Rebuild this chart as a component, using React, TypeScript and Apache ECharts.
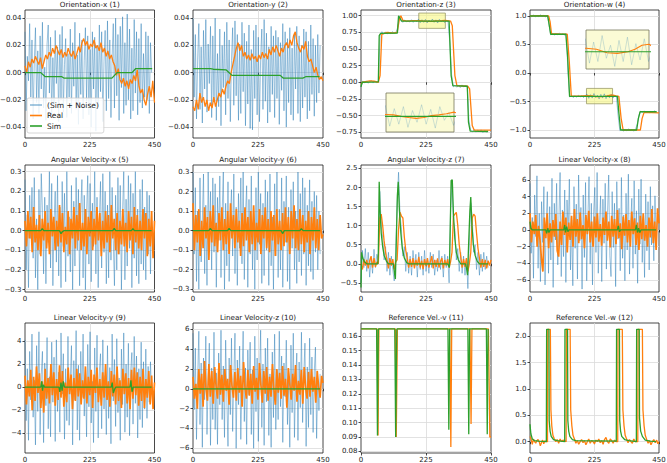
import React, { useEffect, useRef } from "react";
import * as echarts from "echarts";

// ---------------- data ----------------
const panelTitles = [
  "Orientation-x (1)", "Orientation-y (2)", "Orientation-z (3)", "Orientation-w (4)",
  "Angular Velocity-x (5)", "Angular Velocity-y (6)", "Angular Velocity-z (7)", "Linear Velocity-x (8)",
  "Linear Velocity-y (9)", "Linear Velocity-z (10)", "Reference Vel.-v (11)", "Reference Vel.-w (12)",
];
const xTickValues = [0, 225, 450];
const noiseEnd = 440;
const realEnd = 450;

const yMin = [-0.048, -0.048, -0.838, -1.14, -0.312, -0.314, -0.74, -7.45, -5.7, -6.47, 0.0789, -0.215];
const yMax = [0.046, 0.046, 1.086, 1.105, 0.334, 0.336, 2.59, 7.8, 5.56, 6.63, 0.1691, 2.25];
const yStep = [0.02, 0.02, 0.25, 0.5, 0.1, 0.1, 0.5, 2, 2, 2, 0.01, 0.5];
const yDecimals = [2, 2, 2, 1, 1, 1, 1, 0, 0, 0, 2, 1];

// Orientation-x
const noiseOriX = [0.03,-0.028,0.012,-0.006,0.036,-0.018,0.024,-0.034,0.008,0.033,
-0.022,0.016,-0.03,0.027,-0.012,0.037,-0.026,0.004,-0.035,0.021,
0.035,-0.015,0.026,-0.032,0.011,-0.024,0.031,-0.008,0.019,-0.036,
0.028,-0.02,0.034,-0.029,0.006,0.025,-0.033,0.014,-0.018,0.032,
-0.03,0.022,-0.01,0.037,-0.027,0.013,-0.038,0.029,-0.016,0.024,
-0.034,0.009,0.033,-0.021,0.027,-0.031,0.017,-0.04,0.03,-0.012,
0.026,-0.043,0.02,-0.025,0.035,-0.014,0.03,-0.036,0.008,0.031,
-0.028,0.038,-0.019,0.024,-0.033,0.012,0.036,-0.026,0.04,-0.017,
0.028,-0.035,0.034,-0.011,0.041,-0.03,0.022,-0.024,0.043,-0.02,
0.032,-0.034,0.018,-0.028,0.039,-0.015,0.03,-0.031,0.025,-0.022,
0.036,-0.026,0.014,-0.018,0.03,-0.02,0.027,-0.03,0.022,0.0];
const realOriX = [0.005,0.0,0.008,0.004,0.01,0.007,0.012,0.009,0.006,0.011,
0.003,0.008,0.013,0.01,0.015,0.012,0.018,0.014,0.02,0.016,
0.013,0.017,0.011,0.015,0.012,0.018,0.014,0.012,0.016,0.01,
0.014,0.019,0.015,0.022,0.025,0.02,0.023,0.017,0.021,0.019,
0.024,0.018,0.02,0.016,0.022,0.015,0.018,0.012,0.016,0.01,
0.013,0.008,0.005,-0.002,0.003,-0.005,-0.008,-0.004,-0.01,-0.006,
-0.012,-0.005,-0.008,-0.002,-0.006,0.002,-0.01,-0.015,-0.012,-0.02,
-0.024,-0.016,-0.01,-0.018,-0.006,-0.022];
const simOriX = [[0,0],[55,0],[70,-0.003],[128,-0.003],[135,-0.004],[302,-0.004],[320,0.0],[372,0.0],[385,0.003],[442,0.003]];

// Orientation-y
const noiseOriY = [0.04,-0.018,0.028,-0.034,0.01,0.036,-0.027,0.019,-0.037,0.031,
-0.012,0.039,-0.029,0.021,-0.008,0.034,-0.033,0.027,-0.021,0.04,
-0.035,0.014,-0.025,0.032,-0.039,0.02,-0.011,0.03,-0.031,0.037,
-0.019,0.024,-0.036,0.009,0.033,-0.024,0.038,-0.017,0.028,-0.035,
0.021,-0.03,0.037,-0.014,0.029,-0.039,0.023,-0.023,0.035,-0.041,
0.017,-0.042,0.031,-0.019,0.035,-0.031,0.026,-0.036,0.011,0.032,
-0.027,0.039,-0.021,0.029,-0.037,0.019,-0.029,0.034,-0.016,0.027,
-0.033,0.031,-0.019,0.026,-0.038,0.022,-0.013,0.036,-0.028,0.03,
-0.04,0.025,-0.022,0.033,-0.031,0.018,-0.035,0.029,-0.012,0.034,
-0.03,0.027,-0.036,0.02,-0.026,0.032,-0.018,0.03,-0.034,0.023,
-0.028,0.035,-0.016,0.025,-0.032,0.02,-0.022,0.028,-0.015,0.02];
const realOriY = [-0.025,-0.028,-0.02,-0.027,-0.015,-0.022,-0.018,-0.025,-0.02,-0.028,
-0.022,-0.026,-0.018,-0.025,-0.02,-0.015,-0.018,-0.012,-0.016,-0.01,
-0.006,-0.008,0.0,0.006,0.012,0.018,0.022,0.016,0.02,0.012,
0.015,0.01,0.013,0.009,0.014,0.01,0.012,0.008,0.013,0.01,
0.015,0.011,0.014,0.01,0.017,0.013,0.019,0.015,0.02,0.016,
0.012,0.018,0.015,0.02,0.022,0.018,0.024,0.02,0.027,0.03,
0.022,0.018,0.015,0.02,0.017,0.023,0.012,0.008,0.01,0.005,
0.0,0.004,-0.002,-0.005,-0.003,-0.006];
const simOriY = [[0,0.003],[60,0.003],[70,0.0025],[115,0.002],[135,-0.002],[302,-0.002],[312,-0.004],[380,-0.004],[390,-0.003],[438,-0.003]];

// Orientation-z
const noiseOriZ = [-0.07,0.015,-0.01,0.02,-0.015,0.01,0.025,-0.012,0.018,-0.005,
0.012,0.72,0.76,0.73,0.755,0.725,0.75,0.73,0.76,0.735,
0.745,0.82,0.99,0.94,0.9,0.935,0.91,0.93,0.905,0.94,
0.9,0.935,0.91,0.948,0.895,0.94,0.9,0.945,0.892,0.935,
0.905,0.95,0.9,0.938,0.89,0.945,0.91,0.93,0.897,0.925,
0.91,0.6,0.12,-0.07,-0.045,-0.075,-0.05,-0.08,-0.04,-0.07,
-0.05,-0.065,-0.58,-0.72,-0.745,-0.71,-0.75,-0.72,-0.74,-0.715,
-0.755,-0.725,-0.745,-0.73];
const realOriZ = [[0,-0.03],[5,0.0],[15,0.01],[30,0.02],[45,0.015],[60,0.0],[66,0.1],[72,0.72],[90,0.75],[110,0.74],[125,0.75],[133,0.95],[138,1.0],[145,0.93],[160,0.92],[180,0.925],[200,0.925],[210,0.924],[220,0.92],[230,0.917],[240,0.915],[250,0.917],[260,0.922],[270,0.924],[280,0.927],[290,0.931],[300,0.925],[310,0.92],[316,0.85],[325,0.1],[332,-0.05],[370,-0.06],[376,-0.1],[385,-0.65],[392,-0.72],[450,-0.72]];
const simOriZ = [[0,-0.07],[4,0],[60,0.005],[63,0.7],[68,0.735],[126,0.74],[130,1.0],[140,0.92],[305,0.92],[312,0.1],[318,-0.05],[368,-0.06],[372,-0.6],[378,-0.735],[440,-0.74]];

// Orientation-w
const noiseOriW = [1.01,0.99,1.015,0.985,1.005,0.99,1.02,0.995,1.01,0.985,
1.005,0.85,0.67,0.695,0.665,0.69,0.67,0.7,0.675,0.69,
0.665,0.69,0.0,-0.42,-0.395,-0.43,-0.4,-0.425,-0.39,-0.42,
-0.4,-0.43,-0.395,-0.37,-0.445,-0.38,-0.44,-0.36,-0.43,-0.39,
-0.455,-0.375,-0.44,-0.365,-0.45,-0.385,-0.435,-0.37,-0.44,-0.4,
-0.42,-0.75,-1.01,-0.985,-1.02,-0.99,-1.015,-0.98,-1.005,-0.99,
-1.02,-0.995,-0.9,-0.75,-0.67,-0.695,-0.665,-0.69,-0.675,-0.7,
-0.67,-0.69,-0.665,-0.685];
const realOriW = [[0,1.0],[30,1.005],[65,1.0],[70,0.9],[75,0.69],[100,0.685],[130,0.68],[137,0.2],[144,-0.4],[170,-0.405],[200,-0.399],[215,-0.402],[230,-0.413],[245,-0.415],[260,-0.41],[270,-0.402],[280,-0.39],[290,-0.387],[300,-0.4],[310,-0.41],[318,-0.8],[325,-1.0],[385,-1.0],[391,-0.8],[398,-0.69],[450,-0.7]];
const simOriW = [[0,1.0],[62,1.0],[72,0.68],[125,0.68],[131,0.3],[138,-0.41],[305,-0.41],[310,-0.7],[316,-1.0],[372,-1.0],[378,-0.8],[384,-0.68],[442,-0.68]];

// Angular Velocity-x
const noiseAngX = [0.26,-0.2,0.08,-0.29,0.18,-0.04,0.22,-0.14,0.27,-0.24,
0.06,-0.3,0.21,-0.12,0.29,0.1,-0.22,0.17,-0.27,0.13,
-0.06,0.3,-0.19,0.24,-0.28,0.04,0.2,-0.16,0.28,-0.23,
0.12,-0.29,0.25,-0.08,0.19,-0.26,0.3,-0.13,0.07,-0.21,
0.23,-0.3,0.15,-0.18,0.27,-0.1,0.21,-0.28,0.11,0.26,
-0.24,0.18,-0.3,0.09,0.28,-0.17,0.24,-0.26,0.14,-0.08,
0.3,-0.22,0.17,-0.29,0.06,0.25,-0.19,0.29,-0.11,0.2,
-0.27,0.13,-0.24,0.3,-0.15,0.22,-0.05,-0.28,0.18,-0.2,
0.27,-0.12,0.23,-0.3,0.1,0.3,-0.25,0.16,-0.18,0.28,
-0.09,0.24,-0.29,0.19,-0.14,0.3,-0.23,0.11,-0.27,0.21,
-0.17,0.26,-0.2,0.12,-0.25,0.2,-0.12,0.18,-0.22,0.1];
const realAngX = [0.05,-0.08,0.1,-0.04,0.07,-0.11,0.12,-0.06,0.03,-0.1,
0.08,-0.13,0.06,-0.05,0.1,-0.09,0.04,-0.12,0.11,-0.03,
0.07,-0.1,0.05,-0.08,0.13,-0.06,0.09,-0.11,0.02,-0.07,
0.1,-0.12,0.06,-0.04,0.12,-0.09,0.08,-0.05,0.14,-0.1,
0.04,-0.08,0.11,-0.12,0.07,-0.03,0.1,-0.1,0.06,-0.07,
0.12,-0.05,0.09,-0.13,0.05,-0.09,0.1,-0.06,0.08,-0.11,
0.13,-0.04,0.06,-0.1,0.09,-0.12,0.05,-0.07,0.11,-0.08,
0.04,-0.11,0.1,-0.05,0.07,-0.12,0.12,-0.06,0.08,-0.09,
0.05,-0.1,0.11,-0.04,0.09,-0.13,0.06,-0.08,0.1,-0.14,
0.05];
const simAngX = [[0,0],[55,0],[60,0.01],[65,0],[120,0],[125,-0.015],[130,-0.005],[135,0],[305,0],[310,0.012],[315,0],[370,0],[375,0.01],[380,0],[440,0]];

// Angular Velocity-y
const noiseAngY = [0.3,-0.12,0.22,-0.26,0.1,-0.3,0.27,-0.16,0.05,0.29,
-0.22,0.13,-0.28,0.3,-0.08,0.2,-0.2,0.27,-0.11,0.24,
-0.29,0.17,-0.05,0.28,-0.24,0.09,0.3,-0.3,0.14,-0.18,
0.25,-0.26,0.06,0.21,-0.13,0.29,-0.22,0.12,-0.28,0.19,
-0.09,0.27,-0.17,0.3,-0.25,0.08,0.23,-0.29,0.16,-0.12,
0.28,-0.2,0.1,-0.3,0.22,-0.15,0.3,-0.07,0.19,-0.27,
0.14,-0.23,0.26,-0.1,0.2,-0.28,0.29,-0.18,0.07,-0.3,
0.24,-0.13,0.3,-0.24,0.11,-0.2,0.27,-0.29,0.15,-0.06,
0.28,-0.26,0.12,-0.3,0.21,-0.09,0.25,-0.2,0.1,-0.27,
0.3,-0.16,0.19,-0.23,0.27,-0.12,0.22,-0.28,0.13,-0.18,
0.26,-0.21,0.15,-0.25,0.2,-0.11,0.18,-0.2,0.1,-0.12];
const realAngY = [0.14,-0.1,0.08,-0.06,0.11,-0.13,0.05,-0.09,0.12,-0.04,
0.07,-0.15,0.1,-0.06,0.13,-0.08,0.04,-0.11,0.09,-0.05,
0.12,-0.1,0.06,-0.07,0.1,-0.12,0.14,-0.04,0.08,-0.09,
0.11,-0.06,0.05,-0.13,0.09,-0.08,0.12,-0.05,0.07,-0.11,
0.1,-0.07,0.13,-0.1,0.04,-0.06,0.11,-0.12,0.08,-0.04,
0.12,-0.09,0.06,-0.11,0.1,-0.05,0.08,-0.13,0.11,-0.07,
0.05,-0.1,0.09,-0.08,0.12,-0.06,0.07,-0.12,0.1,-0.04,
0.13,-0.09,0.06,-0.1,0.11,-0.07,0.08,-0.11,0.05,-0.06,
0.1,-0.12,0.07,-0.05,0.12,-0.09,0.06,-0.1,0.08,-0.04,
-0.02];
const simAngY = [[0,0],[55,0],[60,0.012],[66,0],[120,0],[125,0.012],[131,0],[305,0],[310,-0.015],[316,0],[370,0],[375,0.01],[381,0],[440,0]];

// Angular Velocity-z
const noiseAngZ = [-0.5,0.35,-0.1,0.4,-0.2,0.3,-0.35,0.15,-0.25,0.38,
-0.1,0.25,0.1,1.9,1.0,0.7,0.1,0.45,-0.2,0.3,
-0.3,0.2,-0.15,-0.45,0.3,1.6,2.4,1.3,0.9,0.2,
0.45,-0.2,0.3,-0.25,0.2,-0.3,0.35,-0.1,0.25,-0.35,
0.3,-0.15,0.2,-0.3,0.35,-0.2,0.15,-0.25,0.3,-0.1,
0.25,-0.3,0.1,-0.2,0.35,-0.15,0.2,-0.35,0.25,-0.1,
0.2,-0.5,1.4,2.1,1.1,0.9,0.1,0.4,-0.2,0.3,
-0.25,0.2,-0.3,0.15,-0.65,0.6,1.6,1.2,0.3,0.5,
-0.15,0.3,-0.3,0.25,-0.2,0.3,-0.15,0.2,-0.1];
const realAngZ = [0.0,-0.15,0.12,-0.05,0.1,-0.12,0.08,0.2,-0.1,0.15,
-0.08,0.05,0.0,1.2,1.3,1.0,0.6,0.3,0.1,-0.12,
0.15,-0.05,0.12,-0.15,0.05,0.1,0.9,1.35,1.25,1.2,
0.7,0.35,0.15,-0.1,0.12,-0.08,0.15,-0.12,0.1,-0.05,
0.18,-0.1,0.08,-0.14,0.12,-0.06,0.15,-0.1,0.05,0.2,
-0.12,0.1,-0.08,0.14,-0.1,0.06,0.15,-0.12,0.1,-0.05,
0.12,-0.1,0.05,0.3,1.25,1.3,1.35,1.0,0.5,0.2,
-0.1,0.12,-0.08,0.15,-0.2,0.0,0.3,1.2,1.3,1.25,
0.8,0.4,0.15,-0.1,0.12,-0.08,0.1,-0.12,0.08,-0.05,
0.1];
const simAngZ = [[0,-0.62],[2,0.3],[6,0.15],[12,0.05],[20,0],[58,0],[60,0.3],[63,2.15],[66,1.4],[70,0.8],[75,0.45],[80,0.22],[88,0.07],[95,0],[112,0],[116,-0.25],[119,-0.4],[121,0.2],[126,1.8],[129,2.15],[133,1.4],[138,0.8],[143,0.4],[150,0.15],[158,0.03],[165,0],[300,0],[306,-0.1],[309,1.0],[312,2.18],[316,2.2],[320,1.3],[325,0.65],[330,0.3],[337,0.1],[345,0],[362,0],[366,-0.15],[369,-0.3],[372,0.4],[377,1.4],[380,1.75],[384,1.0],[389,0.5],[395,0.22],[402,0.07],[410,0],[440,0]];

// Linear Velocity-x
const noiseLinX = [5.6,-2.8,1.5,-5.8,4.2,-0.8,6.5,-4.6,2,-6.2,
3.4,-1.5,5.2,-6.6,0.8,4.6,-5.2,2.8,-3.6,6.2,
-6.9,3.2,-1.2,5.6,-4.2,1.4,6.9,-5.6,2.4,-3.2,
4.8,-6.3,3.6,-0.4,6.1,-4.8,1.2,-6.7,5.2,-2.2,
3.1,-5.9,6.6,-1.3,2.7,-7.1,4.2,-3.3,5.7,-6.1,
1.3,6.4,-4.1,3.2,-6.6,2.2,5.1,-2.7,6.9,-5.2,
0.6,4.1,-6.2,3.7,-1.6,5.6,-4.7,2.1,6.6,-3.1,
-5.6,4.6,-2.1,3.2,-6.8,5.8,-1.1,2.6,-4.9,6.3,
-3.4,1.8,-6.1,4.4,-2.4,6.7,-5.3,0.9,3.8,-4.6,
5.9,-2.9,2.3,-6.4,4.9,-1.7,6.1,-3.9,1.4,-5.7,
4.3,-2.5,3.4,-4.8,5.2,-1.8,2.9,-3.7,4.1,-1.2];
const realLinX = [2,-1.5,1,-0.5,1.8,-2,0.5,-1.2,-3.5,-5,
1.5,-1,2,-2.2,0.8,-1.5,1.2,-0.8,1.9,-2.5,
-3.2,1,-1.8,2.2,-0.6,1.5,-2.7,0.9,-1.2,1.7,
-2,2.5,-0.8,1.3,-1.6,2.1,-1.1,0.6,-2.2,1.8,
-0.5,2.3,-1.5,1,-2,1.6,-0.9,2,-1.4,0.7,
-1.9,1.5,-0.6,2.2,-1.3,1,-2.1,1.7,-0.8,1.3,
-1.7,2.4,-1,0.8,-2.3,1.6,-0.7,1.9,-1.5,1.2,
-2,2.2,-0.5,1.4,-1.8,0.9,-2.4,1.7,-1.1,2,
-1.3,0.6,-2,1.5,-0.9,2.5,-1.6,1,-2.4,2.6,
0.8];
const simLinX = [[0,1.0],[3,0.2],[8,0],[55,0],[58,-0.4],[62,0.2],[66,-0.3],[70,0],[118,0],[121,0.6],[124,-0.3],[128,0.4],[132,-0.2],[136,0],[305,0],[308,0.5],[312,-0.2],[316,0],[368,0],[371,0.6],[375,-0.3],[379,0.2],[383,-0.3],[387,0],[440,0]];

// Linear Velocity-y
const noiseLinY = [4.1,-2.9,1.6,-4.6,3.1,-1.1,4.6,-2.6,0.6,-5,
3.6,-2.1,4.8,-4.1,1.1,3.1,-4.8,2.1,-1.6,4.3,
-3.6,0.9,-4.3,3.9,-1.3,2.6,-4.7,4.1,-2.1,1.3,
-3.9,4.7,-0.6,2.9,-4.5,1.6,-2.9,4.4,-3.3,0.7,
3.6,-5,2.3,-1.1,4.9,-3.7,1.9,-4.6,3.1,-0.9,
4.6,-2.5,1.1,-4.3,3.7,-1.7,4.8,-3.1,0.5,-4.8,
3.4,-2.1,4.5,-4.4,1.4,2.9,-3.6,4.1,-1.9,1,
-4.1,3.6,-2.7,1.7,-4.9,4.6,-1.2,2.4,-3.4,4.2,
-2.2,0.8,-4.6,3.3,-1.5,4.7,-3.9,2,-2.6,3.8,
-4.2,1.4,3,-3.2,4.4,-1.4,2.7,-4.4,1.6,-2.8,
3.9,-3.5,2.2,-1.9,3.3,-2.7,1.8,-1.3,2.2,-0.6];
const realLinY = [1,-1.5,0.6,-0.8,1.5,-2,0.9,-1.2,1.8,-0.5,
1.2,-1.8,0.5,-2.2,1.6,-1,0.8,-1.4,2,-0.7,
1.3,-1.6,0.7,-1.1,1.9,-0.9,1.4,-1.7,0.4,-1.3,
1.7,-0.6,1.1,-1.9,0.8,-1.2,1.6,-0.8,1.2,-1.5,
0.6,-1,1.8,-1.4,0.9,-0.7,1.5,-1.8,1.1,-0.5,
1.7,-1.3,0.7,-1.6,1.3,-0.9,2,-1.1,0.5,-1.7,
1.4,-0.8,1.1,-1.5,1.8,-1.2,0.6,-1.8,1.6,-0.6,
1.2,-1.4,0.8,-1.9,1.5,-1,1.7,-0.7,1.3,-1.6,
0.9,-1.2,1.6,-1.8,0.7,-0.9,1.4,-1.5,1,-1.9,
0.4];
const simLinY = [[0,0],[55,0],[58,0.5],[61,-0.3],[64,0.2],[68,0],[118,0],[121,-0.4],[125,0.4],[129,-0.3],[133,0.5],[137,0],[300,0],[303,0.4],[307,-0.5],[311,-0.2],[315,0],[365,0],[368,0.6],[372,-0.4],[376,0],[440,0]];

// Linear Velocity-z
const noiseLinZ = [5.6,-2.1,4.1,-5.1,1.1,5.8,-3.6,2.6,-5.9,3.1,
-1.1,5.3,-4.6,0.6,4.6,-5.7,2.1,-3.1,5.7,-4.1,
1.6,-5.6,3.6,-1.6,5.9,-3.1,2.3,-4.9,4.9,-0.9,
-5.8,3.1,-2.6,5.1,-4.3,1.1,5.6,-6,2.9,-1.6,
4.3,-5.1,0.9,5.8,-3.3,2.1,-5.6,3.9,-0.6,4.7,
-4.6,1.9,-6,5.3,-2.3,3.1,-5.3,0.7,5.9,-3.9,
2.5,-5.7,4.1,-1.3,5.1,-4.7,1.5,-5.9,3.7,-2.9,
5.5,-4.1,1.9,-3.1,5.8,-1.8,3.3,-5.4,2.6,-0.8,
4.9,-3.6,1.2,-5.9,4.4,-2.4,5.6,-4.9,0.9,3.6,
-5.2,2.7,-1.9,5.7,-3.4,1.4,4.6,-5.8,2.2,-3.9,
5.1,-2.6,3.2,-4.4,1.7,4.2,-5,0.8,-2.2,1.5];
const realLinZ = [1.2,-1,0.5,-2,2,-0.5,1.5,-1.8,2.8,0,
-1.2,2.5,-0.8,1.8,-1.5,2.2,0.2,-1,2.6,-0.6,
1.4,-1.3,2,-0.2,1,-1.6,2.4,0.3,-0.9,1.7,
-1.2,2.1,-0.4,1.3,-1.8,2.7,0.1,-1,1.9,-0.7,
1.5,-1.5,2.3,-0.3,1.1,-1.1,2.6,0.4,-1.4,1.8,
-0.5,2.2,-1.2,1.2,-0.8,2.5,0,-1.6,2,-0.4,
1.6,-1,2.3,-0.7,1,-1.9,2.1,0.5,-1.1,1.5,
-0.2,2.4,-1.3,0.8,-0.6,1.9,-1.5,2.2,0.1,-1,
1.7,-0.8,2,-0.3,1.2,-1.4,1.8,0.2,-0.9,1.3,
0.6];
const simLinZ = [[0,0],[440,0]];

// Reference Vel.-v
const realRefV = [[0,0.165],[56,0.165],[59,0.091],[62,0.165],[119,0.165],[122,0.09],[126,0.165],[307,0.165],[311,0.083],[314,0.165],[377,0.165],[381,0.099],[384,0.165],[441,0.165],[446,0.09],[450,0.09]];
const simRefV = [[0,0.165],[54,0.165],[57,0.091],[60,0.165],[117,0.165],[120,0.09],[124,0.165],[301,0.165],[304,0.095],[307,0.165],[370,0.165],[373,0.092],[376,0.165],[434,0.165],[437,0.092],[440,0.165]];

// Reference Vel.-w
const realRefW = [[0,0.1],[4,0.05],[8,-0.05],[12,0.05],[16,0.0],[20,-0.03],[24,0.02],[28,0.04],[32,0.0],[36,-0.08],[40,-0.02],[44,0.03],[48,-0.04],[52,0.02],[56,0.0],[61,0.0],[62,2.13],[71,2.13],[73,0.6],[76,0.3],[80,0.12],[85,0.05],[90,0.0],[95,0.04],[100,-0.03],[105,0.05],[110,0.0],[115,0.03],[126,0.0],[127,2.13],[140,2.13],[142,0.6],[146,0.3],[150,0.12],[155,0.05],[160,-0.03],[165,0.02],[170,-0.05],[175,0.0],[180,0.04],[185,-0.02],[190,0.02],[195,-0.06],[200,0.0],[205,0.05],[210,-0.03],[215,0.02],[220,0.0],[225,-0.04],[230,0.03],[235,0.0],[240,0.05],[245,-0.02],[250,0.02],[255,-0.05],[260,0.04],[265,0.08],[270,0.0],[275,-0.03],[280,0.05],[285,0.02],[290,-0.03],[295,0.03],[300,0.0],[306,0.0],[307,2.13],[322,2.13],[324,0.6],[328,0.3],[332,0.12],[337,0.05],[342,-0.02],[347,0.04],[352,0.0],[357,-0.03],[362,0.05],[367,0.0],[376,0.0],[377,2.13],[392,2.13],[394,0.6],[398,0.3],[402,0.12],[407,0.04],[412,-0.03],[417,0.02],[422,-0.06],[427,0.0],[432,0.04],[437,-0.02],[442,0.03],[446,-0.04],[450,0.0]];
const simRefW = [[0,0.33],[3,0.15],[8,0.05],[15,0.02],[30,0.01],[57,0.0],[58,2.13],[66,2.13],[67,0.4],[70,0.2],[74,0.1],[82,0.04],[95,0.02],[121,0.0],[122,2.13],[131,2.13],[132,0.4],[135,0.2],[139,0.1],[148,0.04],[160,0.02],[301,0.01],[302,2.13],[312,2.13],[313,0.4],[316,0.2],[320,0.1],[330,0.04],[345,0.02],[371,0.0],[372,2.13],[381,2.13],[382,0.45],[386,0.2],[392,0.1],[402,0.03],[420,0.01],[440,0.0]];

// zoom windows (data coordinates)
const zoomRegionZ = [[200, 0.81], [292, 1.04]];
const zoomRegionW = [[197, -0.54], [288, -0.27]];
const insetRangeZ = [200, 290, 0.88, 0.98];
const insetRangeW = [200, 290, -0.463, -0.343];

// ---------------- layout / style ----------------
const W = 667, H = 463;
const colLayout = [[25, 129.5], [193, 130], [361, 130], [530, 129]];
const rowLayout = [[10, 128], [165, 127], [323, 130]];
const insetBoxZ = [386, 93, 68, 39];
const insetBoxW = [586, 30, 63, 39];
const FONT = "'DejaVu Sans', 'Liberation Sans', sans-serif";
const TXT = "#1a1a1a";
const AXC = "#1a1a1a";
const GRIDC = "#dadada";
const BLUE = "#1f77b4", ORANGE = "#ff7f0e", GREEN = "#2ca02c";

function spread(values: number[], end: number): number[][] {
  const n = values.length;
  return values.map((v, i) => [(i * end) / (n - 1), v]);
}

function fmt(v: number, d: number): string {
  const r = Math.abs(v) < 1e-9 ? 0 : v;
  return (r < 0 ? "\u2212" : "") + Math.abs(r).toFixed(d);
}

function buildOption(): any {
  const noise: (number[][] | null)[] = [
    spread(noiseOriX, noiseEnd), spread(noiseOriY, noiseEnd), spread(noiseOriZ, noiseEnd), spread(noiseOriW, noiseEnd),
    spread(noiseAngX, noiseEnd), spread(noiseAngY, noiseEnd), spread(noiseAngZ, noiseEnd), spread(noiseLinX, noiseEnd),
    spread(noiseLinY, noiseEnd), spread(noiseLinZ, noiseEnd), null, null,
  ];
  const real: number[][][] = [
    spread(realOriX, realEnd), spread(realOriY, realEnd), realOriZ, realOriW,
    spread(realAngX, realEnd), spread(realAngY, realEnd), spread(realAngZ, realEnd), spread(realLinX, realEnd),
    spread(realLinY, realEnd), spread(realLinZ, realEnd), realRefV, realRefW,
  ];
  const sim: number[][][] = [
    simOriX, simOriY, simOriZ, simOriW, simAngX, simAngY, simAngZ, simLinX, simLinY, simLinZ, simRefV, simRefW,
  ];
  const denseReal = [false, false, false, false, true, true, false, true, true, true, false, false];

  const grids: any[] = [];
  const xAxes: any[] = [];
  const yAxes: any[] = [];
  const series: any[] = [];
  const graphics: any[] = [];

  const tick = { show: true, length: 2.5, lineStyle: { color: AXC, width: 0.8 } };
  const split = { show: true, showMinLine: false, showMaxLine: false, lineStyle: { color: GRIDC, width: 0.8 } };

  panelTitles.forEach((title, k) => {
    const [left, width] = colLayout[k % 4];
    const [top, height] = rowLayout[Math.floor(k / 4)];
    grids.push({
      left, top, width, height, show: true, borderColor: AXC, borderWidth: 0.8,
      backgroundColor: "transparent", containLabel: false, outerBoundsMode: "none",
    });
    xAxes.push({
      type: "value", gridIndex: k, min: xTickValues[0], max: xTickValues[2], interval: xTickValues[1] - xTickValues[0],
      axisLine: { show: false }, axisTick: tick, splitLine: split,
      axisLabel: { fontSize: 7, color: TXT, fontFamily: FONT, margin: 3, formatter: (v: number) => String(Math.round(v)) },
    });
    yAxes.push({
      type: "value", gridIndex: k, min: yMin[k], max: yMax[k], minInterval: yStep[k], maxInterval: yStep[k],
      axisLine: { show: false }, axisTick: tick, splitLine: split,
      axisLabel: {
        fontSize: 7, color: TXT, fontFamily: FONT, margin: 3.5, showMinLabel: false, showMaxLabel: false,
        formatter: (v: number) => fmt(v, yDecimals[k]),
      },
    });
    graphics.push({
      type: "text", x: left + width / 2, y: top - 5.5,
      style: { text: title, fontSize: 7.2, fill: TXT, fontFamily: FONT, align: "center", verticalAlign: "middle" },
    });

    const nz = noise[k];
    if (nz) {
      const s: any = {
        type: "line", name: "(Sim + Noise)", xAxisIndex: k, yAxisIndex: k, data: nz, symbol: "none",
        color: BLUE, lineStyle: { color: BLUE, width: 0.75, opacity: 0.6 }, z: 2,
      };
      const zr = k === 2 ? zoomRegionZ : k === 3 ? zoomRegionW : null;
      if (zr) {
        s.markArea = {
          silent: true,
          itemStyle: { color: "rgba(246,246,130,0.6)", borderColor: "#9a9a6a", borderWidth: 0.8 },
          data: [[{ coord: zr[0] }, { coord: zr[1] }]],
        };
      }
      series.push(s);
    }
    series.push({
      type: "line", name: "Real", xAxisIndex: k, yAxisIndex: k, data: real[k], symbol: "none",
      color: ORANGE, lineStyle: { color: ORANGE, width: denseReal[k] ? 1.7 : 1.3 }, z: 3,
    });
    series.push({
      type: "line", name: "Sim", xAxisIndex: k, yAxisIndex: k, data: sim[k], symbol: "none",
      color: GREEN, lineStyle: { color: GREEN, width: 1.3 }, z: 4,
    });
  });

  // insets
  const insets = [
    { box: insetBoxZ, range: insetRangeZ, src: 2 },
    { box: insetBoxW, range: insetRangeW, src: 3 },
  ];
  insets.forEach((ins, j) => {
    const gi = 12 + j;
    const [left, top, width, height] = ins.box;
    grids.push({
      left, top, width, height, show: true, backgroundColor: "#fbfbd5", borderColor: "#76765a", borderWidth: 0.8,
      z: 5, containLabel: false, outerBoundsMode: "none",
    });
    xAxes.push({ type: "value", gridIndex: gi, min: ins.range[0], max: ins.range[1], show: false, z: 5 });
    yAxes.push({ type: "value", gridIndex: gi, min: ins.range[2], max: ins.range[3], show: false, z: 5 });
    series.push({
      type: "line", name: "(Sim + Noise)", xAxisIndex: gi, yAxisIndex: gi, data: noise[ins.src], symbol: "none",
      color: BLUE, lineStyle: { color: BLUE, width: 0.6, opacity: 0.35 }, z: 6,
    });
    series.push({
      type: "line", name: "Real", xAxisIndex: gi, yAxisIndex: gi, data: real[ins.src], symbol: "none",
      color: ORANGE, lineStyle: { color: ORANGE, width: 1.1 }, z: 7,
    });
    series.push({
      type: "line", name: "Sim", xAxisIndex: gi, yAxisIndex: gi, data: sim[ins.src], symbol: "none",
      color: GREEN, lineStyle: { color: GREEN, width: 1.1 }, z: 8,
    });
  });

  return {
    animation: false,
    backgroundColor: "#ffffff",
    textStyle: { fontFamily: FONT },
    grid: grids,
    xAxis: xAxes,
    yAxis: yAxes,
    series,
    graphic: graphics,
    legend: {
      orient: "vertical", left: 27, top: 98, itemGap: 2.5, itemWidth: 12, itemHeight: 1.6,
      backgroundColor: "rgba(255,255,255,0.85)", borderColor: "#cccccc", borderWidth: 0.8, borderRadius: 2,
      padding: [3, 5, 3, 3], selectedMode: false,
      textStyle: { fontSize: 7.5, color: TXT, fontFamily: FONT },
      data: [
        { name: "(Sim + Noise)", icon: "rect", itemStyle: { color: "rgba(31,119,180,0.5)" } },
        { name: "Real", icon: "rect", itemStyle: { color: ORANGE } },
        { name: "Sim", icon: "rect", itemStyle: { color: GREEN } },
      ],
    },
  };
}

export default function App() {
  const ref = useRef<HTMLDivElement>(null);
  useEffect(() => {
    if (!ref.current) return;
    const chart = echarts.init(ref.current, null, { renderer: "svg", width: W, height: H });
    chart.setOption(buildOption());
    return () => chart.dispose();
  }, []);
  return <div ref={ref} style={{ width: W, height: H, position: "absolute", left: 0, top: 0 }} />;
}
